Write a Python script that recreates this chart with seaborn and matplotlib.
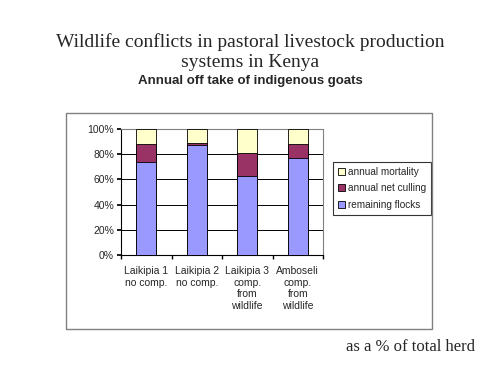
import matplotlib
matplotlib.use("Agg")
import matplotlib.pyplot as plt
import seaborn as sns
import pandas as pd
from matplotlib.patches import Rectangle, Patch

sns.set_theme(style="white")
plt.rcParams['font.family'] = ['Liberation Sans', 'DejaVu Sans']

# data (% of total herd)
sites = ["Laikipia 1\nno comp.", "Laikipia 2\nno comp.",
         "Laikipia 3\ncomp.\nfrom\nwildlife", "Amboseli\ncomp.\nfrom\nwildlife"]
remaining = [74, 87, 63, 77]
culling = [14, 2, 18, 11]
mortality = [12, 11, 19, 12]

colors = {"remaining flocks": "#9999FF",
          "annual net culling": "#993366",
          "annual mortality": "#FFFFCC"}

df = pd.DataFrame({"site": sites, "remaining": remaining,
                   "culling": culling, "mortality": mortality})
df["top_cull"] = df["remaining"] + df["culling"]
df["top_mort"] = df["top_cull"] + df["mortality"]

fig = plt.figure(figsize=(5, 3.75), dpi=100)
fig.patch.set_facecolor("white")

# outer chart frame
fig.add_artist(Rectangle((66 / 500, 1 - 329 / 375), 366 / 500, 216 / 375,
                         transform=fig.transFigure, fill=False,
                         edgecolor="#808080", linewidth=1.0))

ax = fig.add_axes([121 / 500, 1 - 255 / 375, 202 / 500, 126 / 375])

# stacked bars drawn as cumulative layers
for col, name in [("top_mort", "annual mortality"),
                  ("top_cull", "annual net culling"),
                  ("remaining", "remaining flocks")]:
    sns.barplot(data=df, x="site", y=col, color=colors[name], width=0.4,
                edgecolor="black", linewidth=0.6, saturation=1, ax=ax, zorder=3)

ax.set_ylim(0, 100)
ax.set_xlim(-0.5, 3.5)
ax.set_yticks([0, 20, 40, 60, 80, 100])
ax.set_yticklabels([f"{v}%" for v in [0, 20, 40, 60, 80, 100]], fontsize=7.5)
ax.yaxis.grid(True, color="black", linewidth=0.7)
ax.set_axisbelow(True)
ax.set_xlabel("")
ax.set_ylabel("")

# category labels centred, tick marks between categories
ax.set_xticks(range(4))
ax.set_xticklabels(sites, fontsize=7.5, linespacing=1.2)
ax.tick_params(axis="x", length=0, pad=8)
ax.set_xticks([-0.5, 0.5, 1.5, 2.5, 3.5], minor=True)
ax.tick_params(axis="x", which="minor", length=3, direction="out", color="black", bottom=True)
ax.tick_params(axis="y", length=3, direction="out", color="black", left=True, pad=2)

for s in ["top", "right"]:
    ax.spines[s].set_color("#808080")
    ax.spines[s].set_linewidth(0.8)
for s in ["left", "bottom"]:
    ax.spines[s].set_color("black")
    ax.spines[s].set_linewidth(0.8)

handles = [Patch(facecolor=colors[n], edgecolor="black", linewidth=0.6, label=n)
           for n in ["annual mortality", "annual net culling", "remaining flocks"]]
leg = ax.legend(handles=handles, loc="upper left", bbox_to_anchor=(1.05, 0.74),
                fontsize=7.2, frameon=True, fancybox=False, edgecolor="black",
                handlelength=0.7, handleheight=0.7, handletextpad=0.3,
                borderpad=0.5, labelspacing=0.65, borderaxespad=0)
leg.get_frame().set_linewidth(0.8)

fig.text(0.5, 1 - 52 / 375, "Wildlife conflicts in pastoral livestock production\nsystems in Kenya",
         ha="center", va="center", fontsize=14, family=["Liberation Serif", "DejaVu Serif"],
         linespacing=1.2)
fig.text(0.5, 1 - 81 / 375, "Annual off take of indigenous goats",
         ha="center", va="center", fontsize=9.5, fontweight="bold")
fig.text(475 / 500, 1 - 347 / 375, "as a % of total herd", ha="right", va="center",
         fontsize=12, family=["Liberation Serif", "DejaVu Serif"])

fig.savefig("out.png", dpi=100)
